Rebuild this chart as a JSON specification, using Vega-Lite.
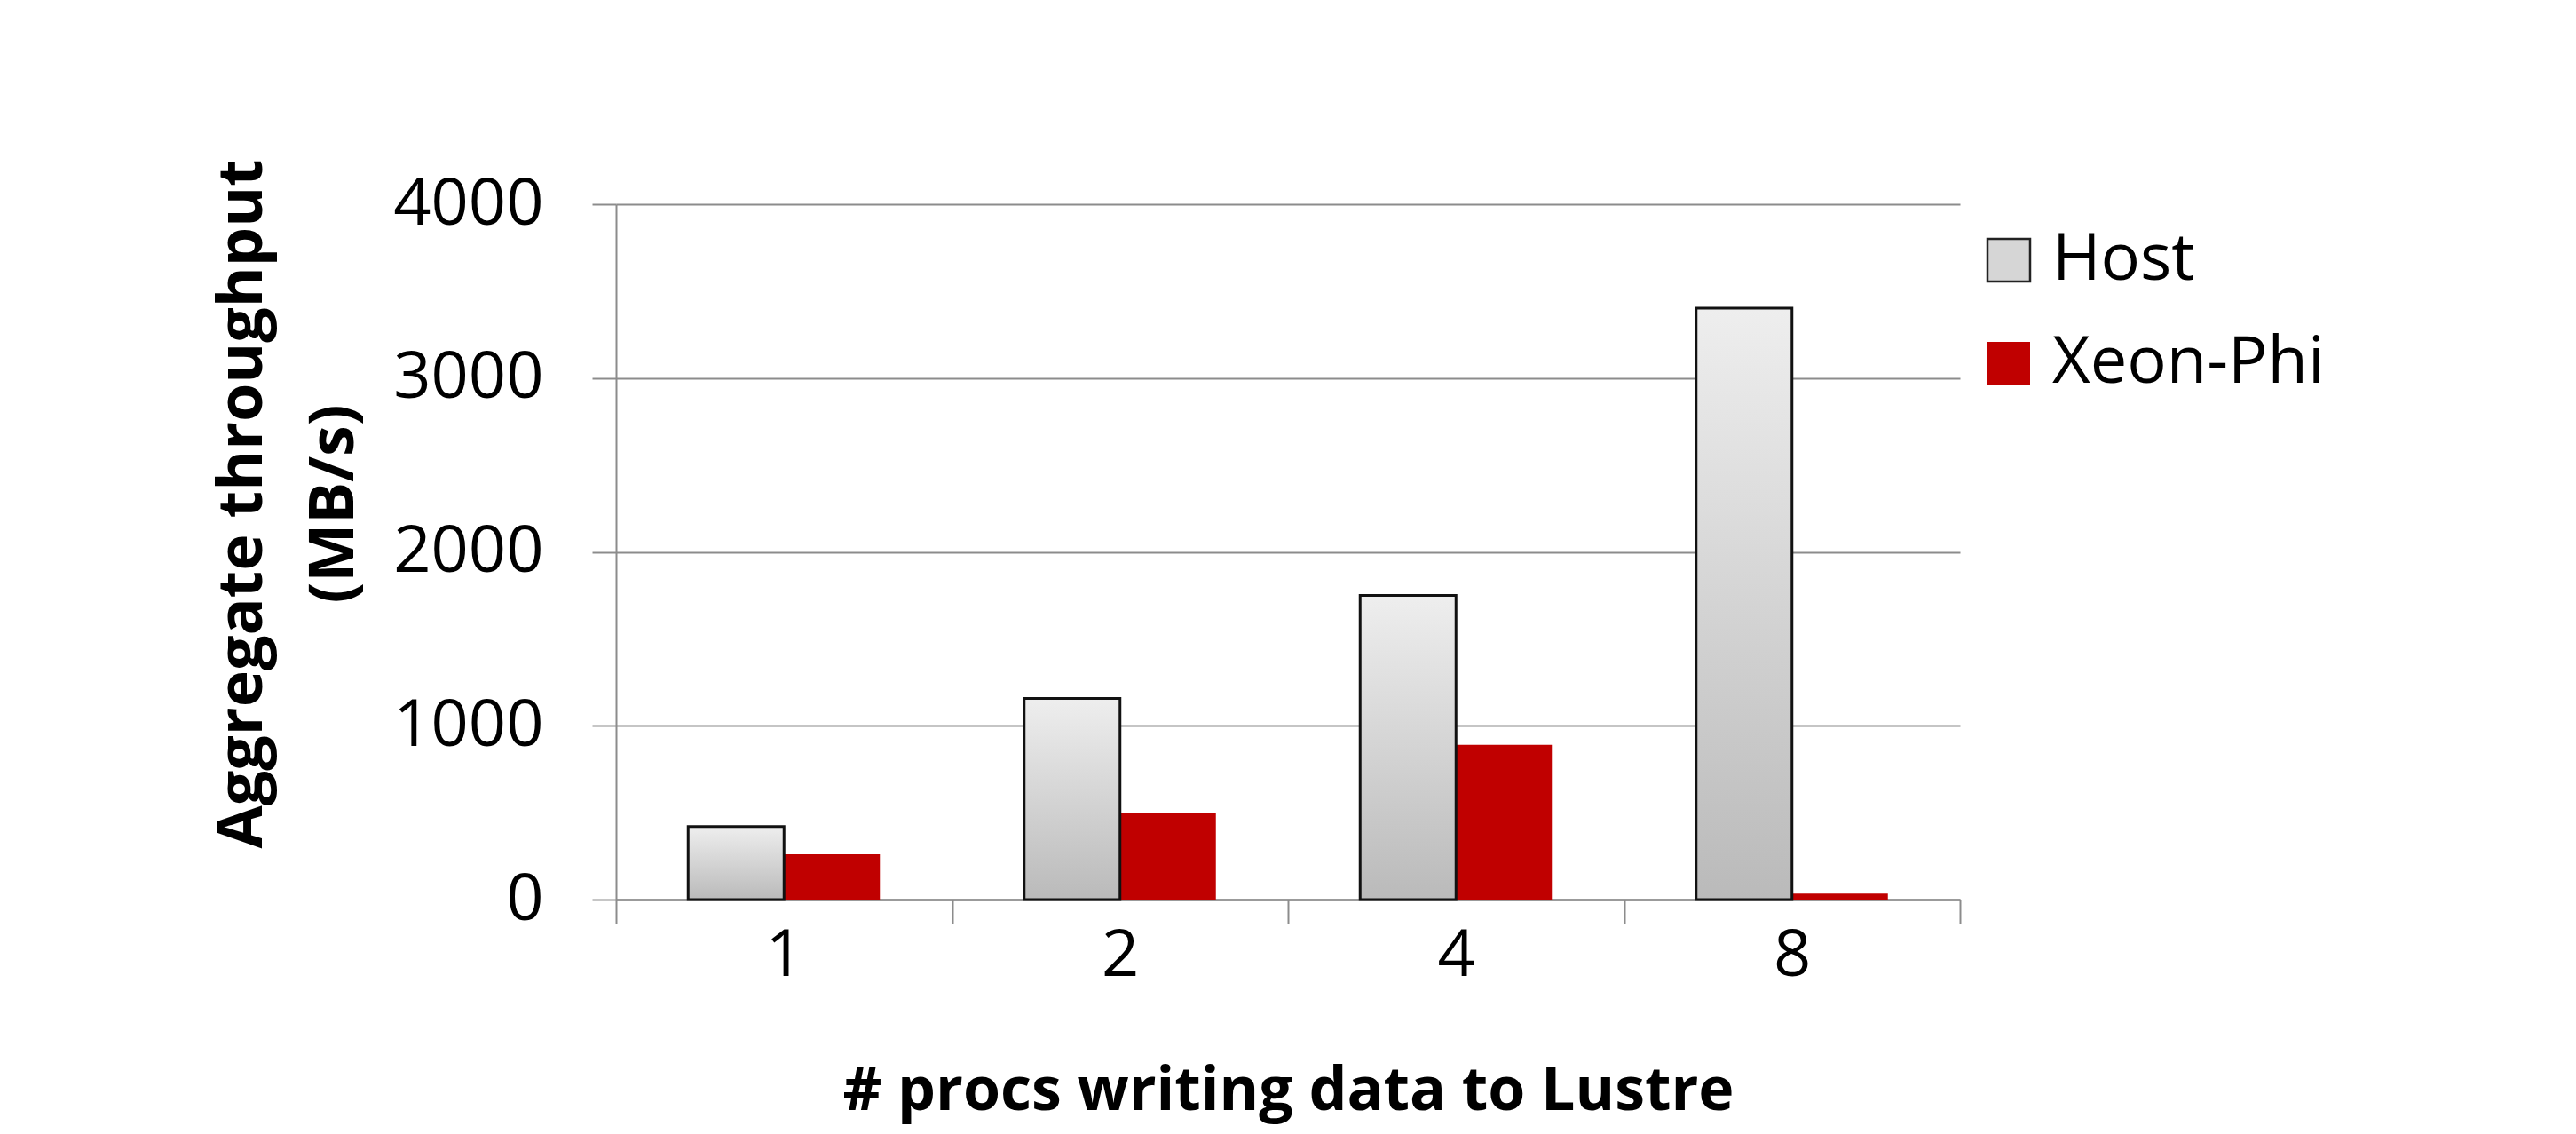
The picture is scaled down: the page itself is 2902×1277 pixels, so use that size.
{
  "$schema": "https://vega.github.io/schema/vega-lite/v6.json",
  "width": 1514,
  "height": 783,
  "autosize": {"type": "none"},
  "padding": {"left": 694, "top": 230, "right": 694, "bottom": 264},
  "background": "white",
  "config": {"view": {"stroke": null}, "font": "Open Sans"},
  "data": {
    "values": [
      {"n": "1", "series": "Host", "value": 420},
      {"n": "1", "series": "Xeon-Phi", "value": 260},
      {"n": "2", "series": "Host", "value": 1157},
      {"n": "2", "series": "Xeon-Phi", "value": 500},
      {"n": "4", "series": "Host", "value": 1750},
      {"n": "4", "series": "Xeon-Phi", "value": 890},
      {"n": "8", "series": "Host", "value": 3402},
      {"n": "8", "series": "Xeon-Phi", "value": 35}
    ]
  },
  "encoding": {
    "x": {
      "field": "n",
      "type": "ordinal",
      "sort": ["1", "2", "4", "8"],
      "scale": {"paddingInner": 0, "paddingOuter": 0},
      "axis": {
        "title": "# procs writing data to Lustre",
        "titleFont": "Open Sans",
        "titleFontWeight": "bold",
        "titleFontSize": 68,
        "titleColor": "black",
        "titlePadding": 82,
        "labelFont": "Open Sans",
        "labelFontSize": 74,
        "labelColor": "black",
        "labelAngle": 0,
        "labelPadding": 0,
        "labelLimit": 0,
        "tickBand": "extent",
        "ticks": true,
        "tickSize": 27,
        "tickColor": "#8c8c8c",
        "tickWidth": 2,
        "domainColor": "#8c8c8c",
        "domainWidth": 2.5,
        "grid": false
      }
    },
    "xOffset": {
      "field": "series",
      "type": "nominal",
      "scale": {"domain": ["Host", "Xeon-Phi"], "paddingInner": 0, "paddingOuter": 0.7523}
    },
    "y": {
      "field": "value",
      "type": "quantitative",
      "scale": {"domain": [0, 4000], "nice": false},
      "axis": {
        "values": [0, 1000, 2000, 3000, 4000],
        "format": "d",
        "title": ["Aggregate throughput", "(MB/s)"],
        "titleFont": "Open Sans",
        "titleFontWeight": "bold",
        "titleFontSize": 70,
        "titleColor": "black",
        "titleLineHeight": 103,
        "titleBaseline": "top",
        "titleX": -455,
        "titleY": 337,
        "labelFont": "Open Sans",
        "labelFontSize": 74,
        "labelColor": "black",
        "labelPadding": 55,
        "labelLimit": 0,
        "tickSize": 27,
        "tickColor": "#8c8c8c",
        "tickWidth": 2,
        "domainColor": "#8c8c8c",
        "domainWidth": 2,
        "grid": true,
        "gridColor": "#8c8c8c",
        "gridWidth": 2
      }
    }
  },
  "layer": [
    {
      "mark": {"type": "bar"},
      "encoding": {
        "color": {
          "field": "series",
          "type": "nominal",
          "scale": {"domain": ["Host", "Xeon-Phi"], "range": ["#d6d6d6", "#c00000"]},
          "legend": {
            "orient": "none",
            "legendX": 1532,
            "legendY": 26,
            "title": null,
            "labelFont": "Open Sans",
            "labelFontSize": 74,
            "labelColor": "black",
            "labelLimit": 0,
            "symbolType": "square",
            "symbolSize": 2304,
            "labelOffset": 12,
            "rowPadding": 42,
            "encode": {
              "symbols": {
                "update": {
                  "fill": [
                    {"test": "datum.value === 'Host'", "value": {"gradient": "linear", "x1": 0, "y1": 0, "x2": 0, "y2": 1, "stops": [{"offset": 0, "color": "#efefef"}, {"offset": 1, "color": "#bdbdbd"}]}},
                    {"value": "#c00000"}
                  ],
                  "stroke": [
                    {"test": "datum.value === 'Host'", "value": "#222222"},
                    {"value": "transparent"}
                  ],
                  "strokeWidth": {"value": 2.5},
                  "opacity": {"value": 1}
                }
              }
            }
          }
        }
      }
    },
    {
      "transform": [{"filter": "datum.series === 'Host'"}],
      "mark": {
        "type": "bar",
        "fill": {"gradient": "linear", "x1": 0, "y1": 0, "x2": 0, "y2": 1, "stops": [{"offset": 0, "color": "#eeeeee"}, {"offset": 1, "color": "#bababa"}]},
        "stroke": "#111111",
        "strokeWidth": 3
      }
    }
  ]
}
